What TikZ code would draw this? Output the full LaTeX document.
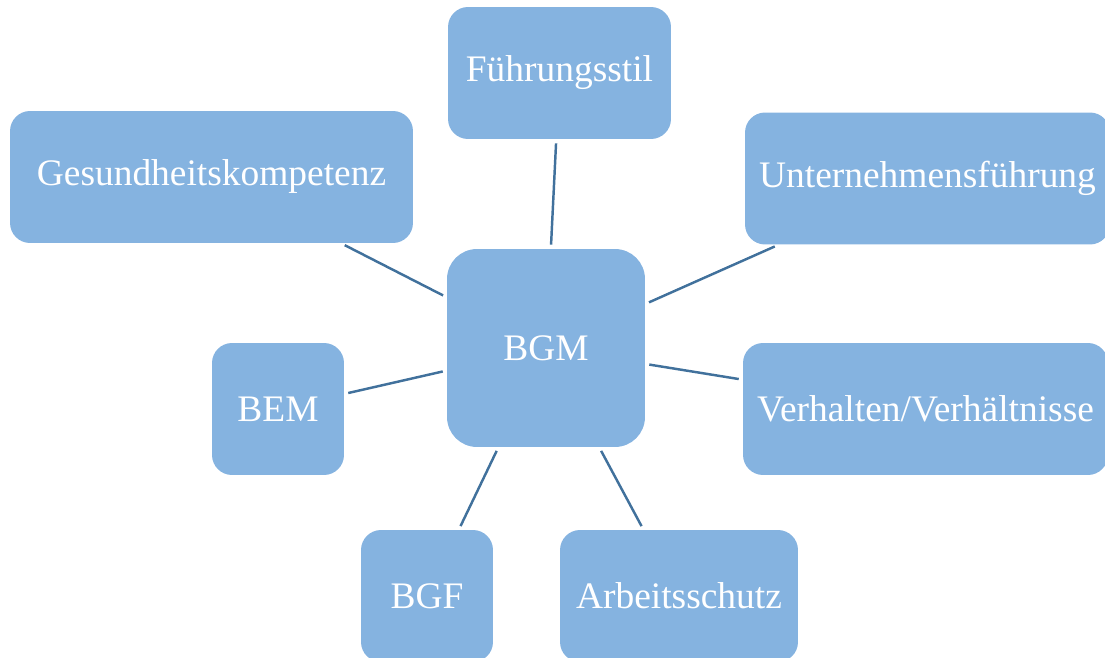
\documentclass[tikz,border=0pt]{standalone}
\usepackage{fontspec}
\setmainfont{Liberation Serif}
\definecolor{boxfill}{HTML}{85B3E0}
\definecolor{linkline}{HTML}{41719C}
\tikzset{
    topic/.style={rectangle, rounded corners=0.4cm, fill=boxfill, text=white,
        inner sep=0pt, minimum height=2.64cm, font=\fontsize{21.3}{25}\selectfont},
    core/.style={topic, rounded corners=0.6cm, minimum width=3.96cm, minimum height=3.96cm},
    link/.style={draw=linkline, line width=1.4pt, shorten <=0.08cm, shorten >=0.08cm}
}
\begin{document}
\begin{tikzpicture}[x=0.02cm, y=-0.02cm]
    \useasboundingbox (0,0) rectangle (1105,658);
    \clip (0,0) rectangle (1105,658);
    % centre
    \node[core] (bgm) at (546,348) {BGM};
    % surrounding topics
    \node[topic, minimum width=4.46cm] (stil) at (559.5,73) {Führungsstil};
    \node[topic, minimum width=8.06cm] (kompetenz) at (211.5,177) {Gesundheitskompetenz};
    \node[topic, minimum width=7.3cm] (unternehmen) at (927.5,178.5) {Unternehmensführung};
    \node[topic, minimum width=2.64cm] (bem) at (278,409) {BEM};
    \node[topic, minimum width=7.3cm] (verhalten) at (925.5,409) {Verhalten/Verhältnisse};
    \node[topic, minimum width=2.64cm] (bgf) at (427,596) {BGF};
    \node[topic, minimum width=4.76cm] (schutz) at (679,596) {Arbeitsschutz};
    % links
    \foreach \n in {stil, kompetenz, unternehmen, bem, verhalten, bgf, schutz}
        \draw[link] (\n) -- (bgm);
\end{tikzpicture}
\end{document}
